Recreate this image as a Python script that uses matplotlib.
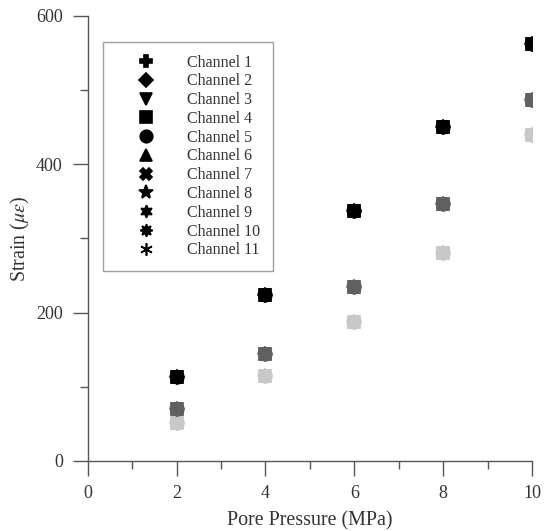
import numpy as np
import matplotlib.pyplot as plt

plt.rcParams['font.family'] = ['Liberation Serif', 'DejaVu Serif']
plt.rcParams['mathtext.fontset'] = 'stix'

# data
pressure = [2, 4, 6, 8, 10]
strain_black = [113, 224, 337, 450, 562]
strain_dark = [70, 144, 235, 346, 486]
strain_light = [51, 115, 187, 280, 439]

channels = ['Channel %d' % i for i in range(1, 12)]
markers = ['P', 'D', 'v', 's', 'o', '^', 'X', '*', (6, 1, 0), (8, 1, 0), (6, 2, 0)]
sizes = [9, 7, 8, 8, 9, 8, 8, 10, 9, 9, 9]

axcol = '#555555'

fig = plt.figure(figsize=(5.49, 5.31), dpi=100)
ax = fig.add_axes([0.160, 0.132, 0.809, 0.838])

for strain, col in [(strain_light, '#c8c8c8'), (strain_dark, '#606060')]:
    for m, s in zip(markers, sizes):
        ax.plot(pressure, strain, linestyle='none', marker=m, markersize=s,
                color=col, markeredgecolor=col, markeredgewidth=1.2)

for ch, m, s in zip(channels, markers, sizes):
    ax.plot(pressure, strain_black, linestyle='none', marker=m, markersize=s,
            color='black', markeredgecolor='black', markeredgewidth=1.2, label=ch)

ax.set_xlim(0, 10)
ax.set_ylim(0, 600)
ax.set_xticks(range(0, 11, 2))
ax.set_xticks(range(1, 10, 2), minor=True)
ax.set_yticks(range(0, 601, 200))
ax.set_yticks(range(100, 600, 200), minor=True)

for sp in ['top', 'right']:
    ax.spines[sp].set_visible(False)
for sp in ['left', 'bottom']:
    ax.spines[sp].set_color(axcol)
    ax.spines[sp].set_linewidth(1.0)

ax.tick_params(which='major', length=11, width=1.0, color=axcol,
               labelsize=13, labelcolor='#333333')
ax.tick_params(axis='y', which='major', pad=7)
ax.tick_params(axis='x', which='major', pad=6)
ax.tick_params(which='minor', length=5.5, width=1.0, color=axcol)

ax.set_xlabel('Pore Pressure (MPa)', fontsize=14.4, color='#333333', labelpad=7)
ax.set_ylabel(r'Strain ($\mu\varepsilon$)', fontsize=14.4, color='#333333', labelpad=3)

leg = ax.legend(loc='upper left', bbox_to_anchor=(0.034, 0.942), borderaxespad=0,
                fancybox=False, edgecolor='#888888', fontsize=11.5,
                labelspacing=0.175, handletextpad=0.675, borderpad=0.8,
                handlelength=3.78, numpoints=1)
leg.get_frame().set_linewidth(1.0)
for t in leg.get_texts():
    t.set_color('#333333')

fig.savefig('out.png', dpi=100)
